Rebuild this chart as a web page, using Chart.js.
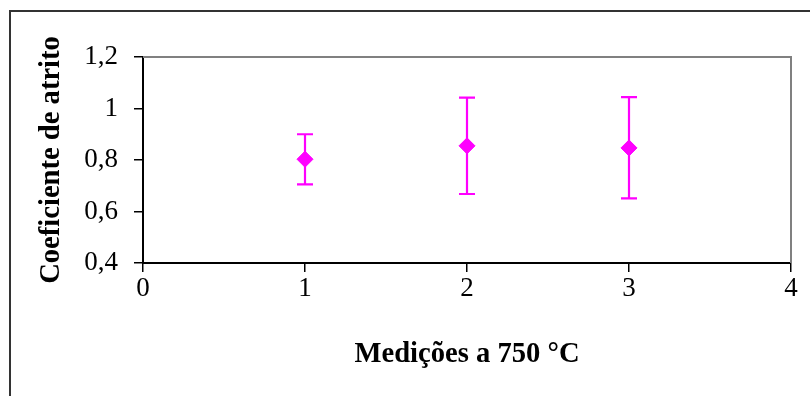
<!DOCTYPE html>
<html>
<head>
<meta charset="utf-8">
<script src="https://cdn.jsdelivr.net/npm/chart.js@4/dist/chart.umd.min.js"></script>
<style>
html,body{margin:0;padding:0;background:#fff;}
#wrap{width:810px;height:396px;position:relative;}
</style>
</head>
<body>
<div id="wrap"><canvas id="c" width="810" height="396"></canvas></div>
<script>
const categories = [1, 2, 3];
const means = [0.803, 0.855, 0.847];
const errLow = [0.705, 0.668, 0.651];
const errHigh = [0.900, 1.042, 1.044];
const xTickValues = [0, 1, 2, 3, 4];
const yTickLabels = ['0,4', '0,6', '0,8', '1', '1,2'];

const FONT = "'Liberation Serif', 'Times New Roman', serif";
const MAGENTA = '#FF00FF';

const errorBars = {
  id: 'errorBars',
  beforeDatasetsDraw(chart) {
    const ctx = chart.ctx;
    const xs = chart.scales.x, ys = chart.scales.y;
    ctx.save();
    ctx.strokeStyle = MAGENTA;
    ctx.lineWidth = 2.2;
    const cap = 8;
    categories.forEach((c, i) => {
      const px = xs.getPixelForValue(c);
      const pLo = ys.getPixelForValue(errLow[i]);
      const pHi = ys.getPixelForValue(errHigh[i]);
      ctx.beginPath();
      ctx.moveTo(px, pLo); ctx.lineTo(px, pHi);
      ctx.moveTo(px - cap, pLo); ctx.lineTo(px + cap, pLo);
      ctx.moveTo(px - cap, pHi); ctx.lineTo(px + cap, pHi);
      ctx.stroke();
    });
    ctx.restore();
  }
};

const frame = {
  id: 'frame',
  beforeDraw(chart) {
    const ctx = chart.ctx;
    ctx.save();
    ctx.fillStyle = '#fff';
    ctx.fillRect(0, 0, chart.width, chart.height);
    ctx.strokeStyle = '#333';
    ctx.lineWidth = 2;
    ctx.strokeRect(10, 11, 900, 500);
    ctx.restore();
  },
  afterDatasetsDraw(chart) {
    const a = chart.chartArea;
    const ctx = chart.ctx;
    ctx.save();
    ctx.strokeStyle = '#808080';
    ctx.lineWidth = 2;
    ctx.beginPath();
    ctx.moveTo(a.left, a.top);
    ctx.lineTo(a.right, a.top);
    ctx.lineTo(a.right, a.bottom);
    ctx.stroke();
    ctx.restore();
  }
};

new Chart(document.getElementById('c'), {
  type: 'scatter',
  data: {
    datasets: [{
      data: categories.map((c, i) => ({x: c, y: means[i]})),
      pointStyle: 'rectRot',
      radius: 8,
      hoverRadius: 8,
      backgroundColor: MAGENTA,
      borderColor: MAGENTA,
      borderWidth: 1,
      showLine: false
    }]
  },
  options: {
    responsive: false,
    animation: false,
    events: [],
    layout: {padding: {top: 57, right: 19, left: 0, bottom: 0}},
    plugins: {legend: {display: false}, tooltip: {enabled: false}},
    scales: {
      x: {
        type: 'linear',
        min: 0, max: 4,
        afterFit(s) { s.height = 133; },
        afterBuildTicks(s) { s.ticks = xTickValues.map(v => ({value: v})); },
        ticks: {
          color: '#000',
          font: {family: FONT, size: 27, lineHeight: 1.2},
          padding: 1,
          maxRotation: 0,
          callback: (v) => String(v)
        },
        grid: {drawOnChartArea: false, drawTicks: true, tickLength: 9, color: '#000', lineWidth: 1.5},
        border: {display: true, color: '#000', width: 2},
        title: {
          display: true,
          text: 'Medições a 750 °C',
          color: '#000',
          font: {family: FONT, size: 28.6, weight: 'bold', lineHeight: 1.2},
          padding: {top: 0, bottom: 24}
        }
      },
      y: {
        type: 'linear',
        min: 0.4, max: 1.2,
        afterFit(s) { s.width = 143; },
        ticks: {
          stepSize: 0.2,
          color: '#000',
          font: {family: FONT, size: 27, lineHeight: 1.2},
          padding: 16,
          callback: (v, i) => yTickLabels[i]
        },
        grid: {drawOnChartArea: false, drawTicks: true, tickLength: 9, color: '#000', lineWidth: 1.5},
        border: {display: true, color: '#000', width: 2},
        title: {
          display: true,
          text: 'Coeficiente de atrito',
          color: '#000',
          font: {family: FONT, size: 28.6, weight: 'bold', lineHeight: 1.2},
          padding: {top: 34, bottom: 0}
        }
      }
    }
  },
  plugins: [frame, errorBars]
});
</script>
</body>
</html>
